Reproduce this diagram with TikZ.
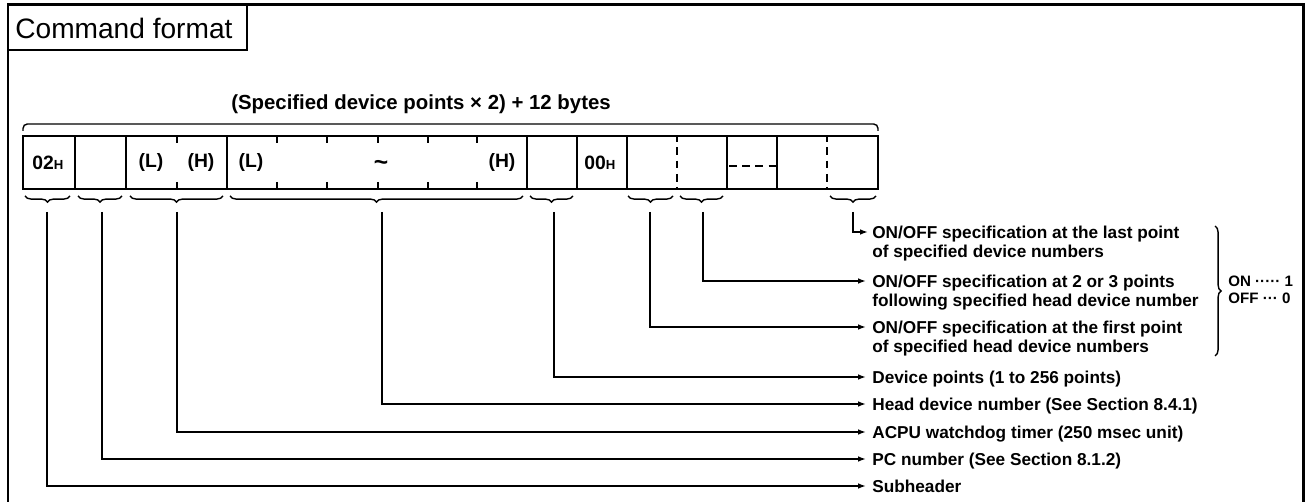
\documentclass[tikz,border=0pt]{standalone}
\usepackage{fontspec}
\setmainfont{Liberation Sans}
\usepackage{tikz}
\usetikzlibrary{arrows.meta,decorations.pathreplacing,calc}

\begin{document}
\begin{tikzpicture}[x=0.02cm, y=-0.02cm,
    frame/.style={line width=1.7pt},
    cellline/.style={line width=1.1pt},
    tick/.style={line width=1pt},
    dashline/.style={line width=1pt, dash pattern=on 4.5pt off 3pt},
    cell/.style={font=\fontsize{11}{12}\selectfont\bfseries, inner sep=0pt},
    ubrace/.style={decorate, decoration={brace, mirror, amplitude=3.5pt}, line width=0.8pt},
    conn/.style={line width=0.85pt, -{Latex[length=4.5pt, width=3.2pt]}},
    lbl/.style={font=\fontsize{9.8}{10.4}\selectfont\bfseries, inner xsep=3.4pt, inner ysep=0pt,
      text height=7pt, text depth=0pt, anchor=west},
    lbltwo/.style={font=\fontsize{9.8}{10.4}\selectfont\bfseries, inner xsep=3.4pt, inner ysep=0pt,
      align=left, anchor=north west},
    onoff/.style={font=\fontsize{8.6}{9.5}\selectfont\bfseries, inner sep=0pt, anchor=west}]
  \useasboundingbox (0,0) rectangle (1305,502);
  % outer frame with the title box
  \draw[frame] (8,502) -- (8,5) -- (1303,5) -- (1303,502);
  \draw[line width=1.2pt] (8,5) rectangle (247,50);
  \node[font=\fontsize{16}{18}\selectfont, anchor=west, inner sep=0pt] (title) at (15,28) {Command format};

  % total length over the command
  \node[font=\fontsize{11.6}{13}\selectfont\bfseries] (len) at (421,104) {(Specified device points × 2) + 12 bytes};
  \draw[line width=0.8pt, rounded corners=2.5pt] (23,131) -- (23,124) -- (878,124) -- (878,131);

  % byte cells
  \draw[cellline] (23,136) rectangle (878,189);
  \foreach \x in {75,126,227,527,577,627,727,777}
    \draw[cellline] (\x,136) -- (\x,189);
  \foreach \x in {177,277,327,378,428,477} {
    \draw[tick] (\x,136) -- (\x,143);
    \draw[tick] (\x,182) -- (\x,189);
  }
  \foreach \x in {677,827}
    \draw[dashline, dash phase=1pt] (\x,136) -- (\x,189);
  \draw[dashline] (729,166) -- (777,166);

  \node[cell] (c1) at (48,163) {02{\fontsize{7.5}{8}\selectfont H}};
  \node[cell] (c3) at (151,163) {(L)};
  \node[cell] (c4) at (201,163) {(H)};
  \node[cell] (c5) at (251,163) {(L)};
  \node[cell, font=\fontsize{14}{14}\selectfont\bfseries] (c7) at (381,165) {\textasciitilde};
  \node[cell] (c10) at (502,163) {(H)};
  \node[cell] (c12) at (600,163) {00{\fontsize{7.5}{8}\selectfont H}};

  % braces under the fields
  \foreach \a/\b in {25/70, 78/122, 130/223, 230/523, 530/573, 628/673, 680/723, 830/876}
    \draw[ubrace] (\a,196) -- (\b,196);
  \coordinate (t1) at (47,212);
  \coordinate (t2) at (102,212);
  \coordinate (t34) at (177,212);
  \coordinate (t5) at (382,212);
  \coordinate (t11) at (554,212);
  \coordinate (t13) at (650,212);
  \coordinate (t14) at (703,212);
  \coordinate (t17) at (853,212);

  % field descriptions
  \node[lbltwo] (last) at (866,226) {ON/OFF specification at the last point\\of specified device numbers};
  \node[lbltwo] (next) at (866,275) {ON/OFF specification at 2 or 3 points\\following specified head device number};
  \node[lbltwo] (first) at (866,321) {ON/OFF specification at the first point\\of specified head device numbers};
  \node[lbl] (pts) at (866,377) {Device points (1 to 256 points)};
  \node[lbl] (head) at (866,404) {Head device number (See Section 8.4.1)};
  \node[lbl] (wdt) at (866,432) {ACPU watchdog timer (250 msec unit)};
  \node[lbl] (pcno) at (866,459) {PC number (See Section 8.1.2)};
  \node[lbl] (sub) at (866,486) {Subheader};

  \draw[conn] (t17) |- ($(last.north west)+(2,6)$);
  \draw[conn] (t14) |- ($(next.north west)+(0,6)$);
  \draw[conn] (t13) |- ($(first.north west)+(0,6)$);
  \draw[conn] (t11) |- (pts.west);
  \draw[conn] (t5) |- (head.west);
  \draw[conn] (t34) |- (wdt.west);
  \draw[conn] (t2) |- (pcno.west);
  \draw[conn] (t1) |- (sub.west);

  % bit values
  \draw[decorate, decoration={brace, amplitude=3.5pt}, line width=0.8pt] (1215,226) -- (1215,356);
  \node[onoff] (on) at (1228,281) {ON ····· 1};
  \node[onoff] (off) at (1228,298) {OFF ··· 0};
\end{tikzpicture}
\end{document}
